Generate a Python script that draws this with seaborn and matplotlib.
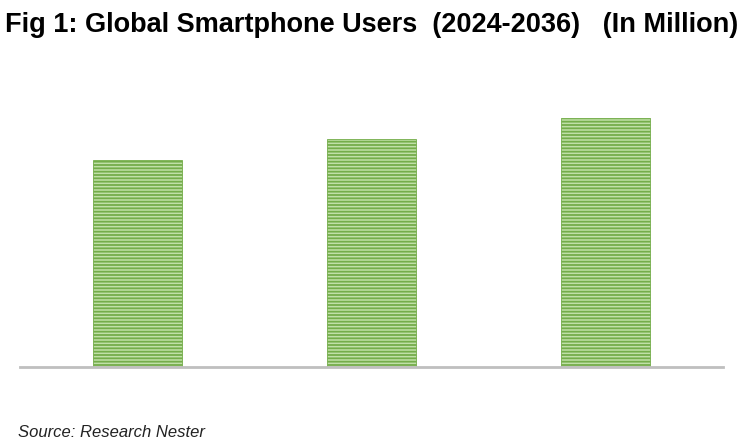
import matplotlib
matplotlib.use('Agg')
import matplotlib.pyplot as plt
import numpy as np
import pandas as pd
import seaborn as sns

# Data (bar heights, no axis shown)
years = ['2024', '2030', '2036']
users = [4800, 5290, 5780]

sns.set_theme(style='white')
plt.rcParams['font.family'] = ['Liberation Sans', 'DejaVu Sans']
plt.rcParams['hatch.linewidth'] = 1.3

df = pd.DataFrame({'year': years, 'users': users})

fig = plt.figure(figsize=(7.44, 4.46), dpi=100)
ax = fig.add_axes([20 / 744, 79 / 446, 703 / 744, 307 / 446])

sns.barplot(data=df, x='year', y='users', color='#c0e0a8', width=0.379,
            saturation=1, ax=ax)
for p in ax.patches:
    p.set_hatch('-----')
    p.set_edgecolor('#74ad4a')
    p.set_linewidth(0.6)

ax.set_xlim(-0.5, 2.5)
ax.set_ylim(0, users[-1] * 307 / 249)
ax.patch.set_alpha(0)
for s in ['top', 'right', 'left']:
    ax.spines[s].set_visible(False)
ax.spines['bottom'].set_color('#bfbfbf')
ax.spines['bottom'].set_linewidth(2)
ax.set_xticks([])
ax.set_yticks([])
ax.set_xlabel('')
ax.set_ylabel('')

fig.text(0.5, 0.945, 'Fig 1: Global Smartphone Users  (2024-2036)   (In Million)',
         ha='center', va='center', fontsize=19.5, fontweight='bold', color='black')
fig.text(18 / 744, 0.03, 'Source: Research Nester', ha='left', va='center',
         fontsize=12, style='italic', color='#222222')

fig.savefig('out.png', dpi=100)
